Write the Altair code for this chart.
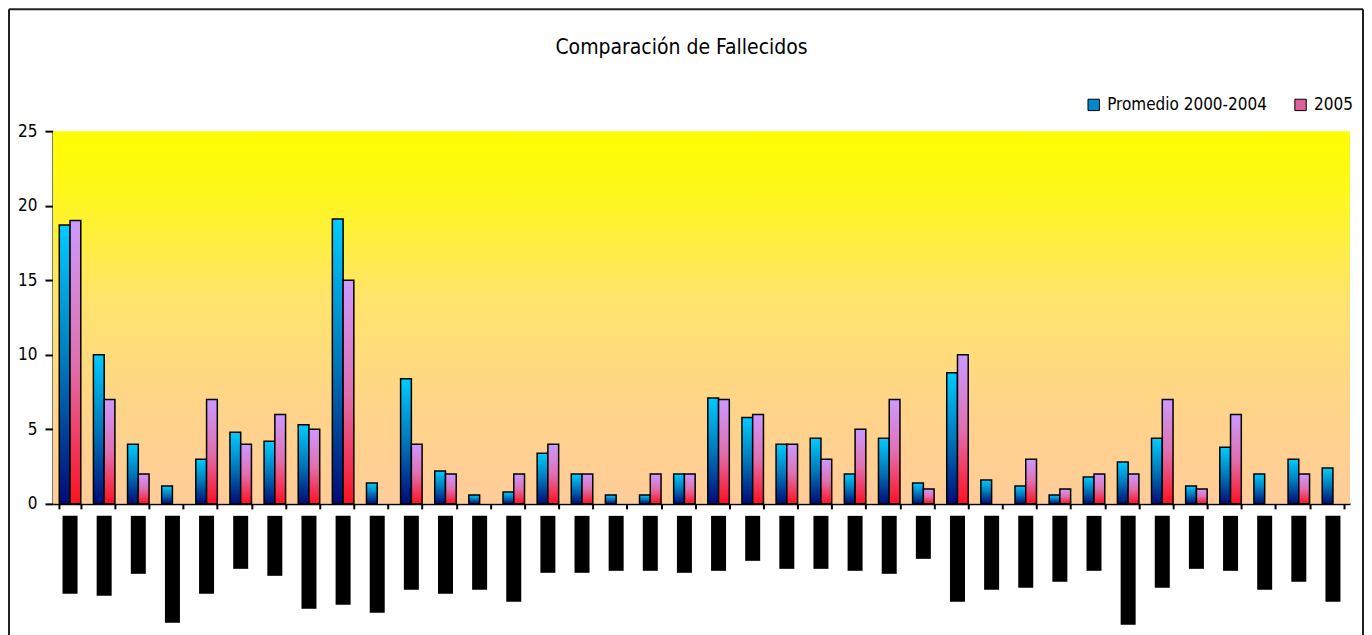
import altair as alt
import pandas as pd

# ---- data ----
categorias = [f"{i:02d}" for i in range(1, 39)]
promedio_2000_2004 = [18.7, 10.0, 4.0, 1.2, 3.0, 4.8, 4.2, 5.3, 19.1, 1.4,
                      8.4, 2.2, 0.6, 0.8, 3.4, 2.0, 0.6, 0.6, 2.0, 7.1,
                      5.8, 4.0, 4.4, 2.0, 4.4, 1.4, 8.8, 1.6, 1.2, 0.6,
                      1.8, 2.8, 4.4, 1.2, 3.8, 2.0, 3.0, 2.4]
fallecidos_2005 = [19, 7, 2, 0, 7, 4, 6, 5, 15, 0,
                   4, 2, 0, 2, 4, 2, 0, 2, 2, 7,
                   6, 4, 3, 5, 7, 1, 10, 0, 3, 1,
                   2, 2, 7, 1, 6, 0, 2, 0]
# lengths of the (unreadable, blacked-out) category labels
largo_etiqueta = [78, 80, 58, 107, 78, 53, 60, 93, 89, 97, 74, 78, 74,
                  86, 57, 57, 55, 55, 57, 55, 45, 53, 53, 55, 58, 43,
                  86, 74, 72, 66, 55, 109, 72, 53, 55, 74, 66, 86]
series = ["Promedio 2000-2004", "2005"]

rows = []
for c, a, b in zip(categorias, promedio_2000_2004, fallecidos_2005):
    rows.append({"cat": c, "serie": series[0], "v": a})
    rows.append({"cat": c, "serie": series[1], "v": b})
df = pd.DataFrame(rows)
df_lab = pd.DataFrame({"cat": categorias, "len": largo_etiqueta})
df_one = pd.DataFrame({"k": [0]})

FONT = "DejaVu Sans Condensed, Liberation Sans Narrow, Liberation Sans, sans-serif"
W, H = 1298, 373


def lg(stops):
    return alt.LinearGradient(
        gradient="linear", x1=0, x2=0, y1=0, y2=1,
        stops=[alt.GradientStop(offset=o, color=c) for o, c in stops])


g_blue = lg([(0, "#00ccff"), (0.5, "#0077bb"), (1, "#000a78")])
g_pink = lg([(0, "#cc99ff"), (0.5, "#e070b0"), (1, "#ff1020")])
g_bg = lg([(0, "#ffff00"), (0.15, "#fff918"), (0.45, "#ffe46c"),
           (0.75, "#ffd48a"), (1, "#ffcc99")])

xenc = alt.X("cat:N", sort=categorias,
             scale=alt.Scale(paddingInner=0.37, paddingOuter=0.185),
             axis=alt.Axis(labels=False, title=None, tickBand="extent",
                           domainColor="black", domainWidth=2,
                           tickColor="black", tickWidth=2, tickSize=5))
yenc = alt.Y("v:Q", scale=alt.Scale(domain=[0, 25], nice=False),
             axis=alt.Axis(values=[0, 5, 10, 15, 20, 25], grid=False,
                           title=None, domainColor="black", domainWidth=2,
                           tickColor="black", tickWidth=2, tickSize=8,
                           labelFont=FONT, labelFontSize=17,
                           labelColor="black", labelPadding=8))
xoff = alt.XOffset("serie:N", scale=alt.Scale(domain=series))

background = alt.Chart(df_one).mark_rect(fill=g_bg, strokeWidth=0).encode(
    x=alt.value(0), x2=alt.value(W), y=alt.value(0), y2=alt.value(H))

base = alt.Chart(df)

legend_bars = base.mark_bar().encode(
    x=xenc, y=yenc, xOffset=xoff,
    color=alt.Color("serie:N", sort=series,
                    scale=alt.Scale(domain=series, range=["#0088cc", "#e0609a"]),
                    legend=alt.Legend(title=None, orient="none", direction="horizontal",
                                      legendX=1033, legendY=-35,
                                      symbolType="square", symbolSize=130,
                                      symbolStrokeColor="black", symbolStrokeWidth=1,
                                      labelFont=FONT, labelFontSize=17, labelLimit=0,
                                      labelColor="black", columnPadding=24,
                                      labelOffset=5)),
)

bars_blue = base.transform_filter(
    (alt.datum.serie == series[0]) & (alt.datum.v > 0)
).mark_bar(fill=g_blue, stroke="black", strokeWidth=1.5).encode(
    x=xenc, y=yenc, xOffset=xoff)

bars_pink = base.transform_filter(
    (alt.datum.serie == series[1]) & (alt.datum.v > 0)
).mark_bar(fill=g_pink, stroke="black", strokeWidth=1.5).encode(
    x=xenc, y=yenc, xOffset=xoff)

main = alt.layer(background, legend_bars, bars_blue, bars_pink)

labels = alt.Chart(df_lab).mark_bar(color="black", size=15).encode(
    x=alt.X("cat:N", sort=categorias),
    y=alt.Y("len:Q", scale=alt.Scale(domain=[-385, -12], reverse=True,
                                     nice=False, zero=False), axis=None),
    y2=alt.Y2(datum=0),
)

frame_left = alt.Chart(df_one).mark_rule(color="#222222", strokeWidth=2).encode(
    x=alt.value(-44), y=alt.value(-122), y2=alt.value(510))
frame_right = alt.Chart(df_one).mark_rule(color="#222222", strokeWidth=2).encode(
    x=alt.value(1311), y=alt.value(-122), y2=alt.value(510))
frame_top = alt.Chart(df_one).mark_rule(color="#222222", strokeWidth=2).encode(
    x=alt.value(-44), x2=alt.value(1311), y=alt.value(-122))

chart = alt.layer(
    main, labels, frame_left, frame_right, frame_top
).resolve_scale(y="independent").properties(
    width=W, height=H,
    padding=0,
    title=alt.TitleParams("Comparación de Fallecidos", font=FONT, fontSize=21,
                          fontWeight="normal", color="black", anchor="middle",
                          frame="group", offset=-50, dx=-20),
).configure(background="white").configure_view(strokeOpacity=0)

chart.save("out.html", embed_options={"renderer": "svg", "actions": False})
